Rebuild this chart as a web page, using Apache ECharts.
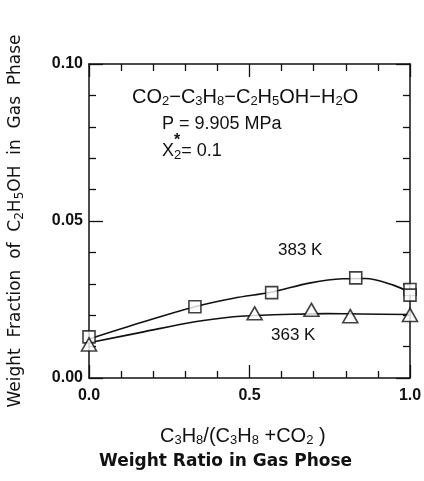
<!DOCTYPE html>
<html>
<head>
<meta charset="utf-8">
<script src="https://cdn.jsdelivr.net/npm/echarts@6/dist/echarts.min.js"></script>
<style>
  html, body { margin: 0; padding: 0; background: #fff; }
  #main { width: 424px; height: 481px; }
</style>
</head>
<body>
<div id="main"></div>
<script>
// measured points, 383 K (squares)
const ratio383 = [0.0, 0.33, 0.569, 0.831, 1.0, 1.0];
const frac383 = [0.0131, 0.0227, 0.0272, 0.0319, 0.0282, 0.0264];
// measured points, 363 K (triangles)
const ratio363 = [0.0, 0.516, 0.693, 0.814, 1.0];
const frac363 = [0.0107, 0.0206, 0.0217, 0.0197, 0.0201];
// smoothed curves
const curve383X = [0.0, 0.17, 0.33, 0.45, 0.57, 0.69, 0.79, 0.86, 0.95, 1.0];
const curve383Y = [0.0124, 0.0179, 0.0227, 0.0254, 0.0274, 0.0303, 0.0316, 0.0317, 0.0295, 0.0272];
const curve363X = [0.0, 0.17, 0.33, 0.45, 0.52, 0.63, 0.74, 0.85, 1.0];
const curve363Y = [0.0112, 0.0147, 0.0179, 0.0195, 0.0199, 0.0203, 0.0205, 0.0204, 0.0202];
const xTickLabels = ['0.0', '0.5', '1.0'];
const yTickLabels = ['0.00', '0.05', '0.10'];

const zip = (xs, ys) => xs.map((x, i) => [x, ys[i]]);

const sans = "'Liberation Sans', Arial, sans-serif";
const dejavu = "'DejaVu Sans', sans-serif";
const black = '#111';

const chart = echarts.init(document.getElementById('main'));

function xAxisCfg(pos, labels) {
  return {
    type: 'value', position: pos, min: 0, max: 1, interval: 0.5,
    axisLine: { show: true, onZero: false, lineStyle: { color: black, width: 1.5 } },
    axisTick: { show: true, inside: true, length: 13, lineStyle: { color: black, width: 1.3 } },
    minorTick: { show: true, splitNumber: 5, length: 7, lineStyle: { color: black, width: 1.3 } },
    splitLine: { show: false },
    axisLabel: {
      show: labels, color: black, fontFamily: sans, fontSize: 16, fontWeight: 'bold', margin: 10,
      formatter: v => xTickLabels[Math.round(v / 0.5)]
    }
  };
}

function yAxisCfg(pos, labels) {
  return {
    type: 'value', position: pos, min: 0, max: 0.1, interval: 0.05,
    axisLine: { show: true, onZero: false, lineStyle: { color: black, width: 1.5 } },
    axisTick: { show: true, inside: true, length: 14, lineStyle: { color: black, width: 1.3 } },
    minorTick: { show: true, splitNumber: 5, length: 7, lineStyle: { color: black, width: 1.3 } },
    splitLine: { show: false },
    axisLabel: {
      show: labels, color: black, fontFamily: sans, fontSize: 16, fontWeight: 'bold', margin: 6,
      formatter: v => yTickLabels[Math.round(v / 0.05)]
    }
  };
}

const yName = Object.assign(yAxisCfg('left', true), {
  name: 'Weight  Fraction  of  C{s|2}H{s|5}OH  in  Gas  Phase',
  nameLocation: 'middle',
  nameGap: 63,
  nameRotate: 90,
  nameTextStyle: {
    color: black, fontFamily: dejavu, fontSize: 17, fontWeight: 'normal',
    lineHeight: 20,
    rich: { s: { fontSize: 12, fontFamily: dejavu, color: black, verticalAlign: 'bottom', lineHeight: 13 } }
  }
});

const sub = { fontSize: 13, fontFamily: sans, color: black, verticalAlign: 'bottom', lineHeight: 14 };

chart.setOption({
  backgroundColor: '#fff',
  animation: false,
  grid: { left: 89, right: 14, top: 64, bottom: 103, outerBoundsMode: 'none', containLabel: false },
  xAxis: [xAxisCfg('bottom', true), xAxisCfg('top', false)],
  yAxis: [yName, yAxisCfg('right', false)],
  graphic: [
    {
      type: 'text', left: 132, top: 86,
      style: {
        text: 'CO{s|2}−C{s|3}H{s|8}−C{s|2}H{s|5}OH−H{s|2}O',
        fill: black, font: '20px ' + sans, lineHeight: 22,
        rich: { s: sub }
      }
    },
    {
      type: 'text', left: 162, top: 115,
      style: { text: 'P = 9.905 MPa', fill: black, font: '18px ' + sans }
    },
    {
      type: 'text', left: 162, top: 140,
      style: {
        text: 'X{s|2}= 0.1', fill: black, font: '18px ' + sans, lineHeight: 22,
        rich: { s: sub }
      }
    },
    {
      type: 'text', left: 174, top: 133,
      style: { text: '*', fill: black, font: 'bold 16px ' + sans }
    },
    {
      type: 'text', left: 278, top: 242,
      style: { text: '383 K', fill: black, font: '17px ' + sans }
    },
    {
      type: 'text', left: 271, top: 327,
      style: { text: '363 K', fill: black, font: '17px ' + sans }
    },
    {
      type: 'text', left: 160, top: 425,
      style: {
        text: 'C{s|3}H{s|8}/(C{s|3}H{s|8} +CO{s|2} )',
        fill: black, font: '20px ' + sans, lineHeight: 22,
        rich: { s: sub }
      }
    },
    {
      type: 'text', left: 99, top: 453,
      style: { text: 'Weight Ratio in Gas Phose', fill: black, font: 'bold 17px ' + dejavu }
    }
  ],
  series: [
    {
      type: 'line', smooth: 0.35, symbol: 'none', data: zip(curve383X, curve383Y),
      lineStyle: { color: black, width: 1.6 }, z: 2
    },
    {
      type: 'line', smooth: 0.35, symbol: 'none', data: zip(curve363X, curve363Y),
      lineStyle: { color: black, width: 1.6 }, z: 2
    },
    {
      type: 'scatter', symbol: 'rect', symbolSize: 12, clip: false, data: zip(ratio383, frac383),
      itemStyle: { color: '#fff', borderColor: black, borderWidth: 1.6 }, z: 3
    },
    {
      type: 'scatter', symbol: 'triangle', symbolSize: [15, 13], clip: false, data: zip(ratio363, frac363),
      itemStyle: { color: '#fff', borderColor: black, borderWidth: 1.6 }, z: 3
    }
  ]
});
</script>
</body>
</html>
